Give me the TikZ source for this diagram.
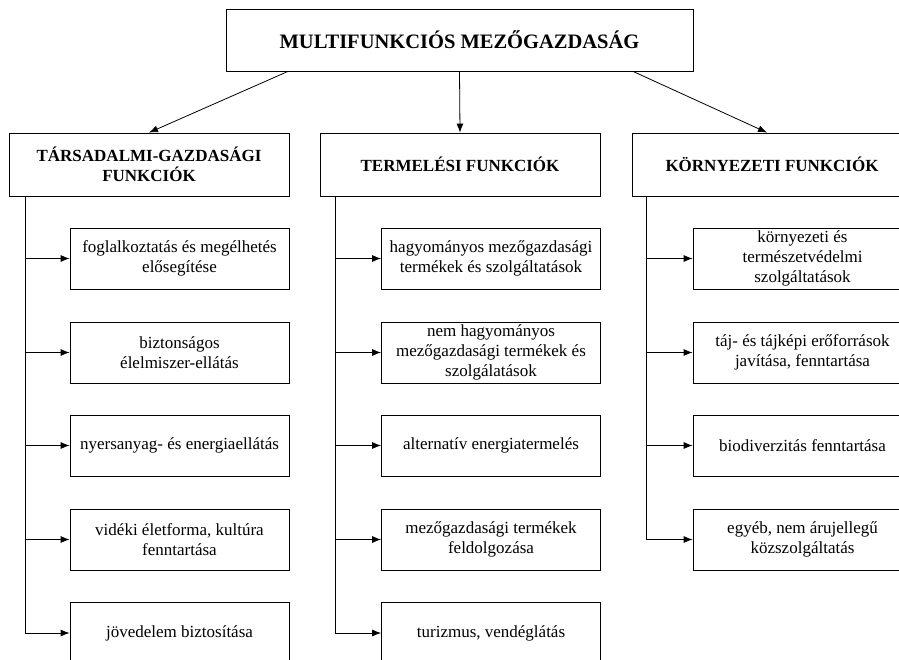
\documentclass[tikz,border=0pt]{standalone}
\usepackage{fontspec}
\setmainfont{Liberation Serif}
\usetikzlibrary{arrows.meta}
\tikzset{
  box/.style={draw=black, line width=0.8pt, align=center, inner sep=0pt, fill=white},
  topbox/.style={box, minimum width=467pt, minimum height=62pt, font=\fontsize{20.5}{24}\selectfont\bfseries},
  headbox/.style={box, minimum width=280pt, minimum height=63pt, font=\fontsize{17}{20}\selectfont\bfseries},
  leafbox/.style={box, minimum width=219pt, minimum height=61pt, font=\fontsize{17}{20}\selectfont},
  arr/.style={line width=0.8pt, -{Latex[length=9pt,width=7pt]}},
  ln/.style={line width=0.8pt}
}
\begin{document}
\begin{tikzpicture}[x=1pt,y=-1pt]
\useasboundingbox (0,0) rectangle (899,660);
\node[topbox] (main) at (459.5,40) {MULTIFUNKCIÓS MEZŐGAZDASÁG};
\node[headbox] (h1) at (149,164.5) {TÁRSADALMI-GAZDASÁGI\\FUNKCIÓK};
\node[headbox] (h2) at (460,164.5) {TERMELÉSI FUNKCIÓK};
\node[headbox] (h3) at (772,164.5) {KÖRNYEZETI FUNKCIÓK};

\node[leafbox] (a1) at (179.5,258.5) {foglalkoztatás és megélhetés\\elősegítése};
\node[leafbox] (a2) at (179.5,352.5) {biztonságos\\élelmiszer-ellátás};
\node[leafbox] (a3) at (179.5,445.5) {nyersanyag- és energiaellátás};
\node[leafbox] (a4) at (179.5,539.5) {vidéki életforma, kultúra\\fenntartása};
\node[leafbox] (a5) at (179.5,633) {jövedelem biztosítása};

\node[leafbox] (b1) at (491,258.5) {hagyományos mezőgazdasági\\termékek és szolgáltatások};
\node[leafbox] (b2) at (491,352.5) {nem hagyományos\\mezőgazdasági termékek és\\szolgálatások};
\node[leafbox] (b3) at (491,445.5) {alternatív energiatermelés};
\node[leafbox] (b4) at (491,539.5) {mezőgazdasági termékek\\feldolgozása};
\node[leafbox] (b5) at (491,633) {turizmus, vendéglátás};

\node[leafbox] (c1) at (802.5,258.5) {környezeti és\\természetvédelmi\\szolgáltatások};
\node[leafbox] (c2) at (802.5,352.5) {táj- és tájképi erőforrások\\javítása, fenntartása};
\node[leafbox] (c3) at (802.5,445.5) {biodiverzitás fenntartása};
\node[leafbox] (c4) at (802.5,539.5) {egyéb, nem árujellegű\\közszolgáltatás};

\draw[arr] ([xshift=-171.5pt]main.south) -- (h1.north);
\draw[arr] (main.south) -- (h2.north);
\draw[arr] ([xshift=173.5pt]main.south) -- ([xshift=-5pt]h3.north);

\coordinate (ta) at (25,0);
\coordinate (tb) at (335,0);
\coordinate (tc) at (646,0);

\draw[ln] (ta |- h1.south) -- (ta |- a5.west);
\foreach \n in {a1,a2,a3,a4,a5} \draw[arr] (ta |- \n.west) -- (\n.west);
\draw[ln] (tb |- h2.south) -- (tb |- b5.west);
\foreach \n in {b1,b2,b3,b4,b5} \draw[arr] (tb |- \n.west) -- (\n.west);
\draw[ln] (tc |- h3.south) -- (tc |- c4.west);
\foreach \n in {c1,c2,c3,c4} \draw[arr] (tc |- \n.west) -- (\n.west);
\end{tikzpicture}
\end{document}
